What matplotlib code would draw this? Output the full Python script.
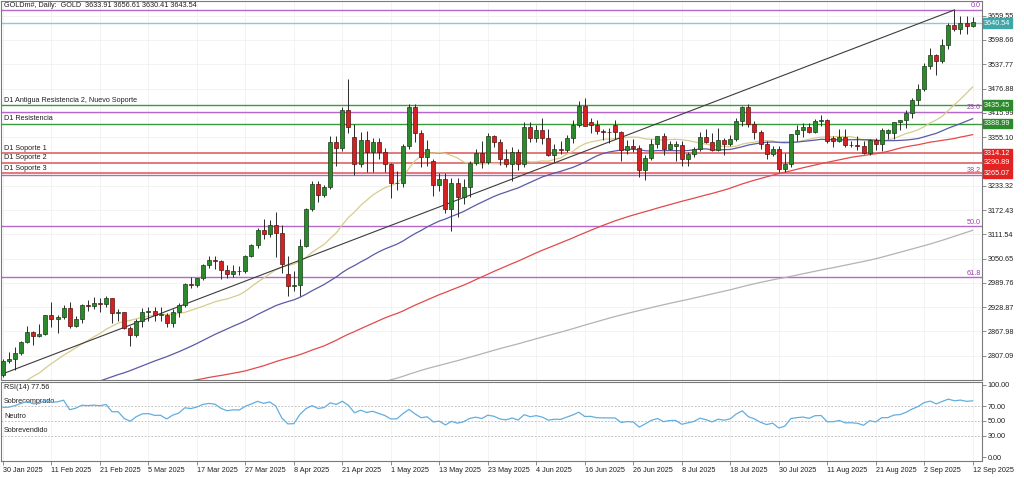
import numpy as np
import pandas as pd
import matplotlib
matplotlib.use("Agg")
import matplotlib.pyplot as plt

plt.rcParams['font.family'] = ['Liberation Sans', 'DejaVu Sans']

# ---------------- data ----------------
symbol_title = "GOLDm#, Daily:  GOLD"

opens = [2760, 2795, 2800, 2815, 2842, 2866, 2856, 2861, 2908, 2898,
         2905, 2928, 2882, 2898, 2935, 2933, 2939, 2936, 2951, 2915,
         2916, 2876, 2858, 2893, 2918, 2920, 2910, 2910, 2889, 2917,
         2934, 2988, 2984, 3001, 3035, 3048, 3044, 3023, 3011, 3020,
         3019, 3057, 3085, 3123, 3113, 3134, 3114, 3012, 2982, 2984,
         3082, 3175, 3237, 3210, 3229, 3343, 3327, 3424, 3355, 3288,
         3349, 3319, 3344, 3317, 3288, 3239, 3241, 3334, 3431, 3366,
         3306, 3295, 3235, 3250, 3176, 3240, 3204, 3230, 3290, 3315,
         3294, 3357, 3342, 3301, 3288, 3318, 3289, 3381, 3353, 3372,
         3352, 3310, 3325, 3322, 3354, 3386, 3432, 3392, 3386, 3370,
         3369, 3385, 3368, 3323, 3332, 3328, 3273, 3303, 3338, 3357,
         3326, 3333, 3336, 3301, 3313, 3325, 3355, 3343, 3324, 3347,
         3339, 3350, 3396, 3431, 3387, 3368, 3337, 3314, 3326, 3275,
         3289, 3363, 3373, 3380, 3369, 3396, 3398, 3352, 3345, 3356,
         3335, 3336, 3332, 3316, 3348, 3339, 3365, 3365, 3393, 3397,
         3416, 3448, 3477, 3534, 3560, 3545, 3587, 3636, 3626, 3641,
         3633.91]
highs = [2800, 2817, 2830, 2845, 2882, 2870, 2886, 2910, 2942, 2908,
         2935, 2942, 2906, 2938, 2948, 2954, 2952, 2956, 2952, 2925,
         2918, 2882, 2900, 2927, 2930, 2930, 2930, 2915, 2925, 2940,
         2990, 3005, 3002, 3038, 3057, 3057, 3047, 3035, 3035, 3032,
         3060, 3087, 3128, 3149, 3148, 3167, 3136, 3056, 3020, 3100,
         3178, 3245, 3245, 3235, 3357, 3357, 3430, 3500, 3388, 3368,
         3371, 3352, 3352, 3328, 3290, 3270, 3337, 3437, 3437, 3374,
         3348, 3300, 3265, 3265, 3252, 3252, 3250, 3295, 3325, 3345,
         3365, 3360, 3350, 3325, 3330, 3325, 3392, 3392, 3385, 3403,
         3375, 3338, 3345, 3360, 3397, 3446, 3452, 3403, 3398, 3375,
         3378, 3398, 3370, 3348, 3350, 3335, 3310, 3350, 3358, 3365,
         3345, 3345, 3345, 3318, 3330, 3369, 3375, 3366, 3377, 3352,
         3361, 3402, 3433, 3439, 3396, 3373, 3345, 3334, 3334, 3315,
         3363, 3385, 3391, 3390, 3400, 3410, 3400, 3358, 3375, 3375,
         3345, 3358, 3345, 3350, 3352, 3379, 3376, 3394, 3398, 3423,
         3453, 3489, 3540, 3578, 3563, 3600, 3640, 3674, 3659, 3658,
         3656.61]
lows = [2755, 2788, 2772, 2810, 2838, 2834, 2853, 2858, 2880, 2864,
        2900, 2876, 2878, 2890, 2920, 2925, 2917, 2930, 2890, 2895,
        2875, 2832, 2855, 2880, 2895, 2895, 2895, 2880, 2880, 2905,
        2930, 2977, 2980, 2998, 3028, 3025, 2999, 3001, 3005, 3010,
        3015, 3055, 3076, 3100, 3105, 3054, 3015, 2956, 2970, 2957,
        3080, 3170, 3193, 3205, 3225, 3284, 3320, 3365, 3260, 3280,
        3268, 3268, 3300, 3268, 3202, 3222, 3230, 3325, 3343, 3280,
        3282, 3208, 3220, 3165, 3120, 3154, 3188, 3205, 3285, 3278,
        3288, 3330, 3285, 3280, 3245, 3272, 3280, 3343, 3343, 3338,
        3307, 3292, 3313, 3318, 3340, 3380, 3382, 3366, 3362, 3348,
        3340, 3350, 3295, 3312, 3318, 3255, 3247, 3298, 3327, 3311,
        3322, 3296, 3283, 3283, 3306, 3320, 3340, 3320, 3320, 3310,
        3332, 3345, 3383, 3381, 3351, 3325, 3301, 3309, 3268, 3268,
        3281, 3346, 3355, 3365, 3365, 3383, 3340, 3331, 3342, 3330,
        3330, 3323, 3314, 3311, 3323, 3321, 3351, 3351, 3372, 3377,
        3403, 3436, 3471, 3525, 3511, 3540, 3577, 3620, 3614, 3614,
        3630.41]
closes = [2795, 2798, 2815, 2842, 2866, 2856, 2861, 2908, 2898, 2905,
          2928, 2882, 2898, 2935, 2933, 2939, 2936, 2951, 2915, 2916,
          2876, 2858, 2893, 2918, 2920, 2910, 2910, 2889, 2917, 2934,
          2988, 2984, 3001, 3035, 3048, 3044, 3023, 3011, 3020, 3019,
          3057, 3085, 3123, 3113, 3134, 3114, 3037, 2982, 2984, 3082,
          3175, 3237, 3210, 3229, 3343, 3327, 3424, 3381, 3288, 3349,
          3319, 3344, 3317, 3288, 3239, 3241, 3334, 3431, 3366, 3306,
          3325, 3235, 3250, 3176, 3240, 3204, 3230, 3290, 3315, 3294,
          3357, 3342, 3301, 3288, 3318, 3289, 3381, 3353, 3372, 3352,
          3310, 3325, 3322, 3354, 3386, 3433, 3384, 3386, 3370, 3369,
          3368, 3368, 3323, 3332, 3328, 3273, 3303, 3338, 3357, 3326,
          3337, 3338, 3301, 3313, 3325, 3355, 3343, 3324, 3347, 3339,
          3350, 3396, 3431, 3387, 3368, 3337, 3314, 3326, 3275, 3289,
          3363, 3373, 3380, 3369, 3396, 3398, 3345, 3345, 3356, 3335,
          3336, 3332, 3316, 3348, 3339, 3372, 3372, 3393, 3397, 3416,
          3448, 3477, 3534, 3560, 3545, 3587, 3636, 3626, 3641, 3634,
          3643.54]

# daily closes before the visible window (16 Jul 2024 - 29 Jan 2025), used only for indicators
prior_closes = [2469, 2459, 2445, 2400, 2396, 2409, 2398, 2364, 2387, 2384, 2410, 2447,
                2446, 2443, 2409, 2390, 2382, 2427, 2431, 2472, 2465, 2447, 2456, 2507,
                2504, 2514, 2512, 2484, 2512, 2518, 2524, 2505, 2520, 2503,
                2500, 2493, 2495, 2517, 2497, 2506, 2516, 2512, 2558, 2578, 2582, 2569,
                2559, 2587, 2622, 2629, 2657, 2657, 2672, 2658, 2634,
                2663, 2659, 2656, 2653, 2644, 2622, 2608, 2630, 2657, 2649, 2662, 2674,
                2693, 2721, 2720, 2749, 2715, 2736, 2747, 2743, 2774, 2788, 2744,
                2736, 2736, 2743, 2659, 2706, 2685, 2618, 2598, 2572, 2565, 2563, 2612,
                2631, 2650, 2670, 2715, 2625, 2633, 2636, 2640, 2650,
                2640, 2643, 2650, 2632, 2633, 2660, 2694, 2718, 2680, 2648, 2652, 2646,
                2586, 2594, 2622, 2612, 2617, 2634, 2621, 2606, 2624,
                2658, 2640, 2636, 2648, 2661, 2670, 2690, 2663, 2677, 2696, 2715, 2703,
                2708, 2745, 2755, 2754, 2770, 2740, 2763, 2760]

date_start, date_end = "2025-01-30", "2025-09-12"
holidays = ["2025-04-18"]
date_labels = ["2025-01-30", "2025-02-11", "2025-02-21", "2025-03-05", "2025-03-17",
               "2025-03-27", "2025-04-08", "2025-04-21", "2025-05-01", "2025-05-13",
               "2025-05-23", "2025-06-04", "2025-06-16", "2025-06-26", "2025-07-08",
               "2025-07-18", "2025-07-30", "2025-08-11", "2025-08-21", "2025-09-02",
               "2025-09-12"]

# right-axis labels visible in the reference (3294.21 is hidden behind the level boxes)
price_ticks = [3659.55, 3598.66, 3537.77, 3476.88, 3415.99, 3355.10, 3233.32,
               3172.43, 3111.54, 3050.65, 2989.76, 2928.87, 2867.98, 2807.09]
rsi_ticks = [100, 70, 50, 30, 0]

level_values = [3435.45, 3388.99, 3314.12, 3290.89, 3265.07]
level_names = ["D1 Antigua Resistencia 2, Nuevo Soporte", "D1 Resistencia",
               "D1 Soporte 1", "D1 Soporte 2", "D1 Soporte 3"]
level_kind = ["green", "green", "red", "red", "red"]
current_price = 3640.54

fib_high, fib_low = 3674.0, 2589.0
fib_levels = [0.0, 23.6, 38.2, 50.0, 61.8]

trend_idx = [0, 157]
trend_price = [2762.0, 3674.0]

ma_periods = [20, 50, 100, 200]
rsi_period = 14
rsi_text = "RSI(14) 77.56"
rsi_zone_names = ["Sobrecomprado", "Neutro", "Sobrevendido"]
rsi_zone_levels = [70, 50, 30]

# ---------------- derived ----------------
dates = pd.bdate_range(date_start, date_end)
dates = dates[~dates.isin(pd.to_datetime(holidays))]
n = len(closes)
x = np.arange(n)
o = np.array(opens, float); h = np.array(highs, float)
l = np.array(lows, float); c = np.array(closes, float)
npre = len(prior_closes)
allc = pd.Series(np.concatenate([prior_closes, c]))

def rsi_wilder(s, p):
    d = np.diff(s)
    g = np.clip(d, 0, None); ls = np.clip(-d, 0, None)
    out = np.full(len(s), np.nan)
    ag = g[:p].mean(); al = ls[:p].mean()
    out[p] = 100 - 100 / (1 + ag / al)
    for i in range(p, len(d)):
        ag = (ag * (p - 1) + g[i]) / p
        al = (al * (p - 1) + ls[i]) / p
        out[i + 1] = 100 - 100 / (1 + ag / al) if al > 0 else 100
    return out

rsi_all = rsi_wilder(allc.values, rsi_period)
rsi = rsi_all[npre:]

# ---------------- figure ----------------
W, H = 1024, 478
fig = plt.figure(figsize=(W / 100, H / 100), dpi=100)
fig.patch.set_facecolor("white")

def rect(x0, y0, x1, y1):
    return [x0 / W, 1 - y1 / H, (x1 - x0) / W, (y1 - y0) / H]

ax = fig.add_axes(rect(1, 1, 982, 380))
rax = fig.add_axes(rect(1, 382, 982, 461))

FS = 5.2
frame = "#7a7a7a"
for a in (ax, rax):
    for sp in a.spines.values():
        sp.set_color(frame)
        sp.set_linewidth(0.8)
    a.set_xlim(-0.33, 161.55)

ax.set_ylim(2746.3, 3696.4)
rax.set_ylim(-5.1, 103.7)

tick_idx = [list(dates).index(pd.Timestamp(d)) for d in date_labels]

# faint grid
for xi in tick_idx:
    ax.axvline(xi, color="#f1f1f1", lw=0.6, zorder=0)
    rax.axvline(xi, color="#f1f1f1", lw=0.6, zorder=0)
for pt in price_ticks:
    ax.axhline(pt, color="#f1f1f1", lw=0.6, zorder=0)

# fib levels
fib_col = "#b469c8"
for lv in fib_levels:
    p = fib_high - (fib_high - fib_low) * lv / 100
    ax.axhline(p, color=fib_col, lw=1.0, zorder=1)
    ax.annotate(f"{lv:.1f}", xy=(1.0, p), xycoords=("axes fraction", "data"),
                xytext=(-1, 0.6), textcoords="offset points", ha="right", va="bottom",
                fontsize=FS, color="#9a3fb0", zorder=6)

# S/R levels
col_map = {"green": ("#3c9a3c", "#2b8a2b"), "red": ("#e07070", "#e52222")}
for v, name, k in zip(level_values, level_names, level_kind):
    lc, bc = col_map[k]
    ax.axhline(v, color=lc, lw=1.0 if k == "green" else 1.3, zorder=1)
    ax.annotate(name, xy=(0.003, v), xycoords=("axes fraction", "data"),
                xytext=(0, 1.0), textcoords="offset points", ha="left", va="bottom",
                fontsize=FS, color="#202020", zorder=6)
    ax.annotate(f"{v:.2f}", xy=(1.0, v), xycoords=("axes fraction", "data"),
                xytext=(1.5, 0), textcoords="offset points", ha="left", va="center",
                fontsize=FS, color="white", annotation_clip=False, zorder=10,
                bbox=dict(boxstyle="square,pad=0.18", fc=bc, ec=bc))

# current price line
ax.axhline(current_price, color="#8fcaca", lw=1.0, zorder=1)
ax.annotate(f"{current_price:.2f}", xy=(1.0, current_price), xycoords=("axes fraction", "data"),
            xytext=(1.5, 0), textcoords="offset points", ha="left", va="center",
            fontsize=FS, color="white", annotation_clip=False, zorder=10,
            bbox=dict(boxstyle="square,pad=0.18", fc="#3fa7a7", ec="#3fa7a7"))

# moving averages
ma_cols = ["#d7cc8c", "#5a5aa8", "#e24a4a", "#b3b3b3"]
for per, col in zip(ma_periods, ma_cols):
    ma = allc.rolling(per).mean().values[npre:]
    ax.plot(x, ma, color=col, lw=0.9, zorder=2)

# trend line
slope = (trend_price[1] - trend_price[0]) / (trend_idx[1] - trend_idx[0])
tx = np.array([-0.33, trend_idx[1]])
ax.plot(tx, trend_price[0] + slope * (tx - trend_idx[0]), color="#3c3c3c", lw=0.8, zorder=2)

# candles
up = c >= o
ax.vlines(x, l, h, color="#2a2a2a", lw=0.7, zorder=3)
body_lo = np.minimum(o, c)
body_h = np.maximum(np.abs(c - o), 1.2)
ax.bar(x[up], body_h[up], bottom=body_lo[up], width=0.66, color="#2b8a2b",
       edgecolor="#183d18", lw=0.5, zorder=4)
ax.bar(x[~up], body_h[~up], bottom=body_lo[~up], width=0.66, color="#d42222",
       edgecolor="#5a1212", lw=0.5, zorder=4)

# axes ticks
ax.yaxis.tick_right()
ax.set_yticks(price_ticks)
ax.set_yticklabels([f"{t:.2f}" for t in price_ticks])
ax.tick_params(axis="y", labelsize=FS, length=3, width=0.6, color=frame, pad=1, labelcolor="#202020")
ax.set_xticks([])

rax.set_xticks(tick_idx)
rax.set_xticklabels([pd.Timestamp(d).strftime("%-d %b %Y") for d in date_labels],
                    ha="left")
rax.tick_params(axis="x", labelsize=FS, length=3, width=0.6, color=frame, pad=1.5,
                labelcolor="#202020")
rax.yaxis.tick_right()
rax.set_yticks(rsi_ticks)
rax.set_yticklabels([f"{t:.2f}" for t in rsi_ticks])
rax.tick_params(axis="y", labelsize=FS, length=3, width=0.6, color=frame, pad=1,
                labelcolor="#202020")

# title
ax.text(0.003, 0.998, f"{symbol_title}  {o[-1]:.2f} {h[-1]:.2f} {l[-1]:.2f} {c[-1]:.2f}",
        transform=ax.transAxes, ha="left", va="top", fontsize=FS, color="#202020", zorder=7)

# RSI panel
for lv in rsi_zone_levels:
    rax.axhline(lv, color="#b5b5b5", lw=0.6, ls=(0, (2, 2)), zorder=1)
for name, lv in zip(rsi_zone_names, rsi_zone_levels):
    rax.annotate(name, xy=(0.003, lv), xycoords=("axes fraction", "data"),
                 xytext=(0, 0.8), textcoords="offset points", ha="left", va="bottom",
                 fontsize=FS, color="#202020")
rax.plot(x, rsi, color="#62aee0", lw=0.9, zorder=3)
rax.text(0.003, 0.97, rsi_text, transform=rax.transAxes, ha="left", va="top",
         fontsize=FS, color="#202020")

fig.savefig("out.png", dpi=100, facecolor="white")
